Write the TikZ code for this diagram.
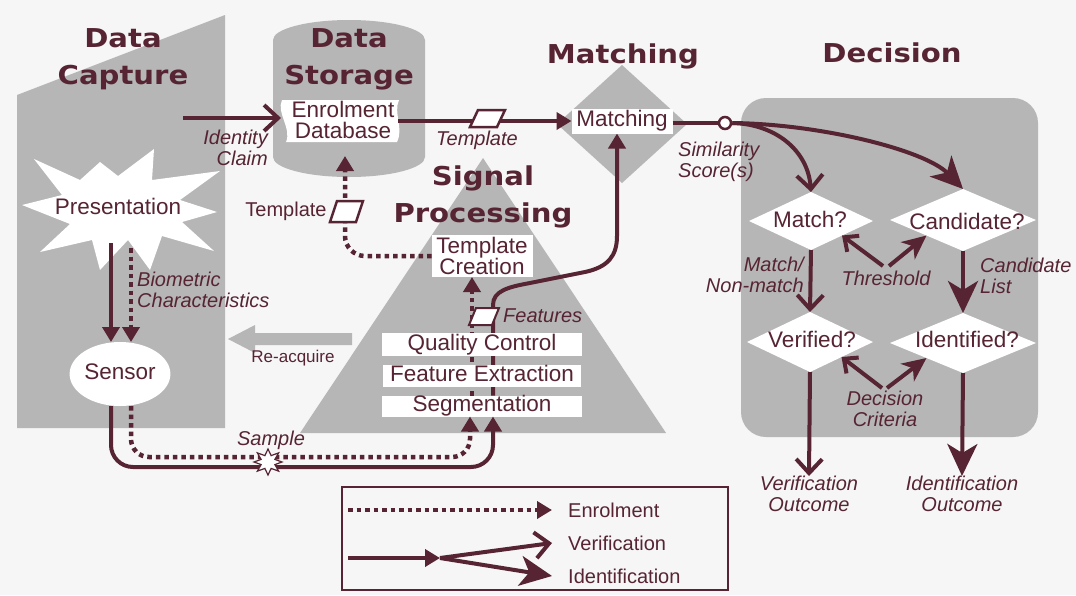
\documentclass[tikz,border=0pt]{standalone}
\usepackage{fontspec}
\setmainfont{Liberation Sans}
\newfontfamily\titlefont[FakeStretch=1.12]{DejaVu Sans}
\usetikzlibrary{arrows.meta,shapes.geometric}
\definecolor{mar}{RGB}{86,36,50}
\definecolor{gfill}{RGB}{182,182,182}
\definecolor{bgc}{RGB}{246,246,246}
\pgfdeclarelayer{back}
\pgfdeclarelayer{mid}
\pgfsetlayers{back,mid,main}
\tikzset{
  ttl/.style={font=\titlefont\bfseries\fontsize{26}{37}\selectfont, text=mar, align=center, inner sep=0pt},
  body/.style={font=\fontsize{22.5}{21.5}\selectfont, text=mar, inner sep=0pt, text height=16pt, text depth=4.5pt},
  body2/.style={font=\fontsize{22.5}{21.5}\selectfont, text=mar, inner sep=0pt, align=center},
  lab/.style={font=\fontsize{20}{21}\selectfont\itshape, text=mar, inner sep=0pt},
  up/.style={font=\fontsize{20}{21}\selectfont, text=mar, inner sep=0pt},
  wbox/.style={fill=white, outer sep=0pt},
  enr/.style={draw=mar, line width=4.5pt, dash pattern=on 4.5pt off 4pt},
  ver/.style={draw=mar, line width=4pt},
  tri/.style={-{Triangle[width=17pt,length=15pt]}},
  vee/.style={-{Straight Barb[width=26pt,length=14pt]}},
  stl/.style={-{Stealth[width=30pt,length=32pt,inset=9pt]}},
  vees/.style={-{Straight Barb[width=20pt,length=11pt]}},
  stls/.style={-{Stealth[width=22pt,length=24pt,inset=7pt]}},
  wdia/.style={diamond, fill=white, inner sep=0pt, outer sep=0pt},
  para/.style={draw=mar, line width=2.5pt, fill=white, line join=miter},
}
\begin{document}
\begin{tikzpicture}[x=1pt,y=-1pt]
\begin{pgfonlayer}{back}
\fill[bgc] (0,0) rectangle (1076,595);
% gray areas
\fill[gfill] (17,95) -- (225,15) -- (225,428) -- (17,428) -- cycle;
\fill[gfill] (273,40) -- (273,157) arc[start angle=180,end angle=360,x radius=76pt,y radius=20pt] -- (425,40) arc[start angle=0,end angle=180,x radius=76pt,y radius=20pt] -- cycle;
\fill[gfill] (300,433) -- (483,158) -- (666,433) -- cycle;
\fill[gfill, rounded corners=25pt] (741,98) rectangle (1038,437);
\fill[gfill] (352,333) -- (255,333) -- (255,325) -- (228,339) -- (255,353) -- (255,345) -- (352,345) -- cycle;
\node[diamond, fill=gfill, inner sep=0pt, outer sep=0pt, minimum width=130pt, minimum height=118pt] (mdia) at (622,124) {};
% presentation star
\fill[white] (22,205) -- (62,195) -- (34,159) -- (80,180) -- (100,162) -- (118,176) -- (154,149) -- (152,180) -- (220,171) -- (180,200) -- (217,212) -- (182,222) -- (214,251) -- (162,236) -- (150,270) -- (128,240) -- (100,270) -- (92,240) -- (40,252) -- (70,224) -- cycle;
% enrolment database white area
\fill[white] (282,100) -- (399,100) .. controls (393,113) and (404,128) .. (397,142) -- (286,142) .. controls (292,128) and (276,113) .. (282,100) -- cycle;
\end{pgfonlayer}

% titles
\node[ttl] (t1) at (123,59) {Data\\Capture};
\node[ttl] (t2) at (349,59) {Data\\Storage};
\node[ttl] (t3) at (623,56) {Matching};
\node[ttl] (t4) at (892,53) {Decision};
\node[ttl] (t5) at (483,196.5) {Signal\\Processing};

% main nodes
\node[body] (pres) at (118,209) {Presentation};
\node[body, ellipse, fill=white, minimum width=78pt, minimum height=64pt, outer sep=0pt] (sensor) at (120,374) {Sensor};
\node[body2] (enrol) at (343,120) {Enrolment\\Database};
\node[body, wbox, minimum width=101pt, minimum height=25pt] (matchbox) at (622,121) {Matching};
\node[body2, wbox, minimum width=101pt, minimum height=42pt] (tc) at (482,256) {Template\\Creation};
\node[body, wbox, minimum width=200pt, minimum height=23pt] (qc) at (482,344.5) {Quality Control};
\node[body, wbox, minimum width=198pt, minimum height=22pt] (fe) at (482,376) {Feature Extraction};
\node[body, wbox, minimum width=200pt, minimum height=21pt] (seg) at (482,406) {Segmentation};
\node[circle, draw=mar, line width=2.5pt, fill=white, minimum size=12pt, inner sep=0pt] (circ) at (725,123) {};

% decision diamonds
\node[wdia, minimum width=124pt, minimum height=58pt] (mq) at (811,221) {};
\node[body] (mqt) at (810,222) {Match?};
\node[wdia, minimum width=146pt, minimum height=62pt] (cq) at (963,220) {};
\node[body] (cqt) at (967,224) {Candidate?};
\node[wdia, minimum width=126pt, minimum height=60pt] (vq) at (810,342) {};
\node[body] (vqt) at (812,342) {Verified?};
\node[wdia, minimum width=146pt, minimum height=60pt] (iq) at (963,343) {};
\node[body] (iqt) at (967,342) {Identified?};

% labels
\node[lab, align=right, anchor=north east] (idl) at (268,130) {Identity\\Claim};
\node[lab, align=left, anchor=north west] (bio) at (137,272) {Biometric\\Characteristics};
\node[up] (tpl) at (286,211) {Template};
\node[lab] (tpl2) at (477,140) {Template};
\node[lab, anchor=west] (feat) at (503,316) {Features};
\node[lab] (smp) at (271,440) {Sample};
\node[font=\fontsize{17}{18}\selectfont, text=mar, inner sep=0pt] (reacq) at (293,358) {Re-acquire};
\node[lab, align=left, anchor=north west] (sim) at (678,142) {Similarity\\Score(s)};
\node[lab, align=right, anchor=north east] (mnm) at (804,257) {Match/\\Non-match};
\node[lab] (thr) at (886,278) {Threshold};
\node[lab, align=left, anchor=north west] (cl) at (980,258) {Candidate\\List};
\node[lab, align=center, anchor=north] (dcr) at (885,391) {Decision\\Criteria};
\node[lab, align=center, anchor=north] (vo) at (809,476) {Verification\\Outcome};
\node[lab, align=center, anchor=north] (io) at (962,476) {Identification\\Outcome};

% coordinates
\coordinate (pS) at (111,243);
\coordinate (pD) at (131,248);
\coordinate (idc) at (183,118);
\coordinate (enrolL) at (281,118);
\coordinate (enrolR) at (398,121);
\coordinate (enrolIn) at (345,156);
\coordinate (thr1) at (883,266);
\coordinate (thr2) at (889,266);
\coordinate (dc1) at (882,388);
\coordinate (dc2) at (887,388);

% lines inside the pyramid (behind boxes)
\begin{pgfonlayer}{mid}
\draw[enr,tri] ([xshift=-10pt]seg.north) -- ([xshift=-10pt]tc.south);
\draw[ver,tri] ([xshift=11pt]seg.north) -- (493,305) .. controls (493,291) and (508,287) .. (530,283) -- (585,272) .. controls (608,267) and (617,256) .. (617,236) -- ([xshift=-5pt]matchbox.south);
\end{pgfonlayer}

% data capture flows
\draw[ver,tri] (pS) -- (pS |- sensor.north);
\draw[enr,tri] (pD) -- (pD |- sensor.north);
\draw[ver,tri,rounded corners=22pt] (pS |- sensor.south) -- (111,467) -- (493,467) -- ([xshift=11pt]seg.south);
\draw[enr,tri,rounded corners=18pt] (pD |- sensor.south) -- (131,457) -- (470,457) -- ([xshift=-12pt]seg.south);
\draw[enr,tri,rounded corners=20pt] (tc.west) -- (tc.west -| enrolIn) -- (enrolIn);
\draw[ver,vee] (idc) -- (enrolL);
\draw[ver,tri] (enrolR) -- (matchbox.west);
\draw[ver] (matchbox.east |- circ.west) -- (circ.west);

% decision flows
\draw[ver,vee] (circ.east) .. controls (775,124) and (808,150) .. (mq.north);
\draw[ver,stl] (circ.east) .. controls (820,124) and (925,150) .. (cq.north);
\draw[ver,vee] (mq.south) -- (vq.north);
\draw[ver,stl] (cq.south) -- (iq.north);
\draw[ver,vee] (vq.south) -- (vo.north);
\draw[ver,stl] (iq.south) -- (io.north);
\draw[ver,vees] (thr1) -- (mq.south east);
\draw[ver,stls] (thr2) -- (cq.south west);
\draw[ver,vees] (dc1) -- (vq.south east);
\draw[ver,stls] (dc2) -- (iq.south west);

% small symbols on the lines
\draw[para] (470,127) -- (478,110) -- (505,110) -- (497,127) -- cycle;
\draw[para] (330,222) -- (337,201) -- (363,201) -- (356,222) -- cycle;
\draw[para, line width=2pt] (469,325) -- (476,308) -- (499,308) -- (492,325) -- cycle;
\draw[draw=mar, line width=1.2pt, fill=white] (282,462) -- (274.9,464.6) -- (278.6,471.1) -- (271.1,468.4) -- (268,475) -- (264.9,468.4) -- (257.4,471.1) -- (261.1,464.6) -- (254,462) -- (261.1,459.4) -- (257.4,452.9) -- (264.9,455.6) -- (268,449) -- (271.1,455.6) -- (278.6,452.9) -- (274.9,459.4) -- cycle;

% legend
\draw[mar, line width=2pt] (342,487) rectangle (728,590);
\node[up, anchor=west] (le) at (568,510) {Enrolment};
\node[up, anchor=west] (lv) at (568,543) {Verification};
\node[up, anchor=west] (li) at (568,576) {Identification};
\coordinate (la) at (348,510);
\coordinate (lg0) at (348,558);
\coordinate (lg1) at (440,558);
\draw[enr,tri] (la) -- ([xshift=-16pt]le.west);
\draw[ver,tri] (lg0) -- (lg1);
\draw[ver,vee] (lg1) -- ([xshift=-16pt]lv.west);
\draw[ver,stl] (lg1) -- ([xshift=-16pt]li.west);
\end{tikzpicture}
\end{document}
